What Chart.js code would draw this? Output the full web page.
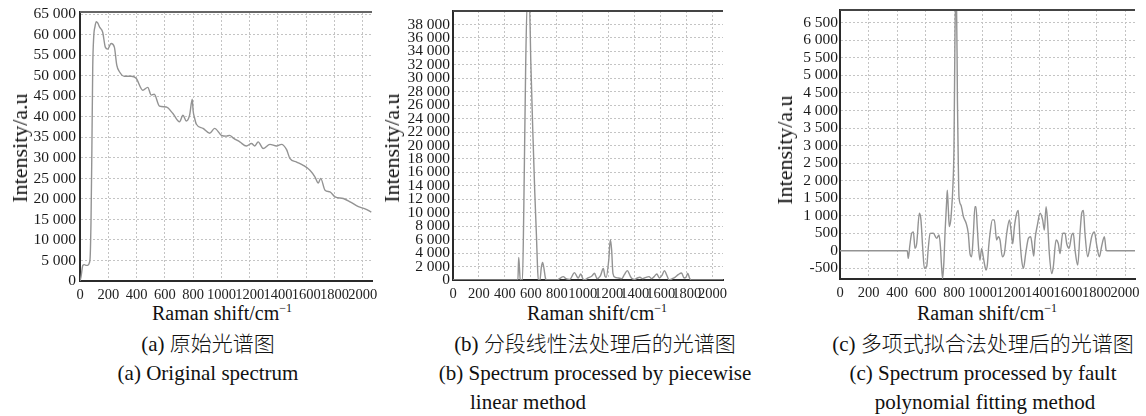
<!DOCTYPE html>
<html>
<head>
<meta charset="utf-8">
<script src="https://cdn.jsdelivr.net/npm/chart.js@4"></script>
<style>
  html, body { margin: 0; padding: 0; background: #fff; }
  #wrap { position: relative; width: 1146px; height: 416px; overflow: hidden; background: #fff; }
  canvas { position: absolute; }
  .t { position: absolute; white-space: nowrap; font-family: "Liberation Serif", "Times New Roman", serif; color: #111; transform: translate(-50%, -50%); line-height: 1; }
  .yt { font-size: 22px; transform: translate(-50%, -50%) rotate(-90deg); }
  .xt { font-size: 20px; }
  .cap { font-size: 21px; }
  .cn { font-family: "Noto Sans CJK SC", "Liberation Serif", serif; font-weight: 300; }
  sup { font-size: 12px; vertical-align: 8px; line-height: 0; }
</style>
</head>
<body>
<div id="wrap">
  <canvas id="ca" width="380" height="300" style="left:0px;top:0px;"></canvas>
  <canvas id="cb" width="380" height="300" style="left:380px;top:0px;"></canvas>
  <canvas id="cc" width="386" height="300" style="left:760px;top:0px;"></canvas>

  <div class="t yt" style="left:20px;top:148px;">Intensity/a.u</div>
  <div class="t yt" style="left:392px;top:148px;">Intensity/a.u</div>
  <div class="t yt" style="left:785px;top:150px;">Intensity/a.u</div>

  <div class="t xt" style="left:222px;top:313px;">Raman shift/cm<sup>−1</sup></div>
  <div class="t xt" style="left:597px;top:313px;">Raman shift/cm<sup>−1</sup></div>
  <div class="t xt" style="left:987px;top:313px;">Raman shift/cm<sup>−1</sup></div>

  <div class="t cap" style="left:208px;top:343px;">(a) <span class="cn">原始光谱图</span></div>
  <div class="t cap" style="left:208px;top:373px;">(a) Original spectrum</div>

  <div class="t cap" style="left:595px;top:343px;">(b) <span class="cn">分段线性法处理后的光谱图</span></div>
  <div class="t cap" style="left:595px;top:373px;">(b) Spectrum processed by piecewise</div>
  <div class="t cap" style="left:470px;top:402px;transform:translate(0,-50%);">linear method</div>

  <div class="t cap" style="left:983px;top:343px;">(c) <span class="cn">多项式拟合法处理后的光谱图</span></div>
  <div class="t cap" style="left:983px;top:373px;">(c) Spectrum processed by fault</div>
  <div class="t cap" style="left:985px;top:402px;">polynomial fitting method</div>
</div>
<script>
// ---------- Data ----------
const shiftA = [0, 7, 20, 30, 45, 58, 66, 72, 78, 84, 90, 97, 106, 115, 125, 140, 160, 179, 196, 220, 243, 260, 279, 314, 362, 397, 444, 479, 504, 525, 562, 610, 657, 704, 728, 751, 775, 794, 800, 811, 823, 870, 917, 952, 1000, 1035, 1059, 1082, 1130, 1177, 1213, 1236, 1260, 1295, 1343, 1390, 1425, 1461, 1484, 1532, 1579, 1626, 1661, 1685, 1702, 1733, 1768, 1804, 1862, 1910, 1969, 2016, 2060];
const intensityA = [0, 1000, 3800, 4000, 3800, 3900, 4400, 6000, 15000, 32000, 52000, 59500, 62000, 63200, 62900, 61800, 60700, 57000, 56500, 57900, 57000, 52600, 51000, 49900, 49900, 49400, 46500, 47200, 45300, 45500, 42600, 42400, 40800, 38800, 40400, 39000, 40400, 44300, 41500, 39600, 38200, 37200, 36000, 37200, 35500, 35300, 35500, 34900, 33900, 32900, 33500, 32900, 33900, 32300, 33300, 32900, 33300, 32000, 29900, 29000, 28200, 27000, 25400, 23900, 25000, 22100, 21700, 20500, 20100, 19300, 18100, 17600, 16800];

const shiftB = [0, 490, 500, 506, 512, 518, 535, 545, 560, 572, 588, 600, 615, 630, 643, 650, 657, 670, 680, 690, 700, 712, 720, 800, 820, 850, 870, 900, 936, 955, 965, 984, 1000, 1010, 1040, 1070, 1090, 1110, 1135, 1158, 1170, 1180, 1200, 1212, 1222, 1232, 1250, 1275, 1300, 1320, 1343, 1365, 1380, 1400, 1420, 1440, 1460, 1480, 1510, 1530, 1550, 1570, 1590, 1610, 1629, 1645, 1665, 1690, 1710, 1735, 1761, 1780, 1795, 1808, 1822, 1835, 2080];
const intensityB = [0, 0, 0, 3370, 1800, 0, 0, 10000, 32000, 41500, 41500, 32000, 22000, 13000, 6500, 2500, 0, 0, 1800, 2600, 1800, 300, 0, 0, 200, 500, 200, 100, 1100, 500, 300, 900, 200, 0, 300, 600, 1000, 200, 600, 1700, 600, 400, 3000, 6000, 4500, 1000, 400, 300, 200, 800, 1400, 600, 200, 100, 300, 400, 200, 350, 500, 200, 500, 900, 300, 700, 1400, 800, 0, 200, 400, 800, 1050, 300, 400, 1000, 300, 0, 0];

const shiftC = [0, 472, 479, 490, 503, 515, 526, 538, 557, 568, 580, 592, 608, 620, 632, 655, 678, 695, 705, 712, 720, 728, 738, 749, 753, 760, 767, 777, 785, 791, 800, 807, 812, 817, 824, 830, 835, 849, 866, 884, 900, 912, 924, 936, 947, 954, 963, 972, 982, 994, 1005, 1015, 1025, 1034, 1043, 1053, 1069, 1083, 1099, 1111, 1123, 1139, 1153, 1170, 1189, 1200, 1212, 1224, 1240, 1251, 1263, 1275, 1287, 1303, 1322, 1338, 1352, 1360, 1368, 1385, 1404, 1422, 1434, 1446, 1455, 1469, 1486, 1497, 1516, 1532, 1544, 1563, 1579, 1591, 1607, 1626, 1637, 1649, 1668, 1684, 1696, 1708, 1719, 1738, 1754, 1766, 1785, 1801, 1820, 1836, 1855, 1867, 1872, 2070];
const intensityC = [0, 0, -217, 150, 497, 540, 69, 200, 1070, 880, 100, -500, -450, 100, 497, 500, 354, 450, 100, -400, -790, -400, 600, 1450, 1730, 1200, 690, 870, 1300, 1730, 3000, 6210, 7300, 7300, 4300, 2500, 1540, 1300, 970, 800, 500, -80, -170, 500, 1260, 1260, 690, 100, -270, 69, -170, -400, -550, -400, 100, 500, 880, 880, 306, 400, 306, -170, -80, 500, 880, 590, 200, 690, 1070, 1150, 306, -270, -500, -80, 354, 400, 30, -150, 306, 730, 1070, 880, 590, 1260, 930, -80, -650, -450, 306, 200, -80, 500, 500, 200, 69, 450, 500, 30, -410, 500, 1070, 1150, 500, -170, 130, 400, 540, 170, -170, 130, 400, 30, 0, 0];

// Tick values
const xTicks = [0, 200, 400, 600, 800, 1000, 1200, 1400, 1600, 1800, 2000];
const yTicksA = [0, 5000, 10000, 15000, 20000, 25000, 30000, 35000, 40000, 45000, 50000, 55000, 60000, 65000];
const yTicksB = [0, 2000, 4000, 6000, 8000, 10000, 12000, 14000, 16000, 18000, 20000, 22000, 24000, 26000, 28000, 30000, 32000, 34000, 36000, 38000];
const yTicksC = [-500, 0, 500, 1000, 1500, 2000, 2500, 3000, 3500, 4000, 4500, 5000, 5500, 6000, 6500];

// ---------- Helpers ----------
function fmtSpace(v) {
  const neg = v < 0;
  let s = String(Math.abs(Math.round(v)));
  if (s.length > 3) s = s.slice(0, s.length - 3) + ' ' + s.slice(s.length - 3);
  return (neg ? '-' : '') + s;
}

const topBorder = {
  id: 'topBorder',
  afterDraw(chart, args, opts) {
    const a = chart.chartArea, ctx = chart.ctx;
    ctx.save();
    ctx.strokeStyle = opts.color || '#555';
    ctx.lineWidth = opts.width || 2;
    ctx.beginPath();
    ctx.moveTo(a.left, a.top);
    ctx.lineTo(a.right, a.top);
    ctx.stroke();
    ctx.restore();
  }
};

function makeChart(id, xs, ys, yTicks, cfg) {
  const pts = xs.map((x, i) => ({ x: x, y: ys[i] }));
  return new Chart(document.getElementById(id), {
    type: 'line',
    data: { datasets: [{ data: pts, borderColor: '#939393', borderWidth: 1.4, pointRadius: 0, cubicInterpolationMode: 'monotone', fill: false }] },
    options: {
      responsive: false, animation: false, devicePixelRatio: 1,
      layout: { padding: { top: cfg.top, right: cfg.right, left: 0, bottom: 0 } },
      plugins: { legend: { display: false }, tooltip: { enabled: false }, topBorder: { color: cfg.topColor } },
      scales: {
        x: {
          type: 'linear', min: 0, max: cfg.xmax,
          grid: { color: '#c4c4c4', lineWidth: 1, drawTicks: false },
          border: { display: true, color: '#2a2a2a', width: 2, dash: [2, 2] },
          afterBuildTicks: s => { s.ticks = xTicks.map(v => ({ value: v })); },
          ticks: { autoSkip: false, maxRotation: 0, minRotation: 0, padding: 5,
                   color: '#222', font: { family: 'Liberation Serif', size: 14.5 }, callback: v => String(v) },
          afterFit: s => { s.height = cfg.xh; s.paddingLeft = 0; s.paddingRight = 0; }
        },
        y: {
          type: 'linear', min: cfg.ymin, max: cfg.ymax,
          grid: { color: '#c4c4c4', lineWidth: 1, drawTicks: false },
          border: { display: true, color: '#2a2a2a', width: 2, dash: [2, 2] },
          afterBuildTicks: s => { s.ticks = yTicks.map(v => ({ value: v })); },
          ticks: { autoSkip: false, padding: cfg.ypad,
                   color: '#1a1a1a', font: { family: 'Liberation Serif', size: 15.5 }, callback: v => fmtSpace(v) },
          afterFit: s => { s.width = cfg.yw; s.paddingTop = 0; s.paddingBottom = 0; }
        }
      }
    },
    plugins: [topBorder]
  });
}

makeChart('ca', shiftA, intensityA, yTicksA, { xmax: 2065, ymin: 0, ymax: 65560, top: 12, right: 8, xh: 19, yw: 80, ypad: 4, topColor: '#666' });
makeChart('cb', shiftB, intensityB, yTicksB, { xmax: 2080, ymin: 0, ymax: 40000, top: 11, right: 37, xh: 20, yw: 73, ypad: 3, topColor: '#444' });
makeChart('cc', shiftC, intensityC, yTicksC, { xmax: 2070, ymin: -805, ymax: 6865, top: 10, right: 11, xh: 21, yw: 80, ypad: 2, topColor: '#444' });
</script>
</body>
</html>
